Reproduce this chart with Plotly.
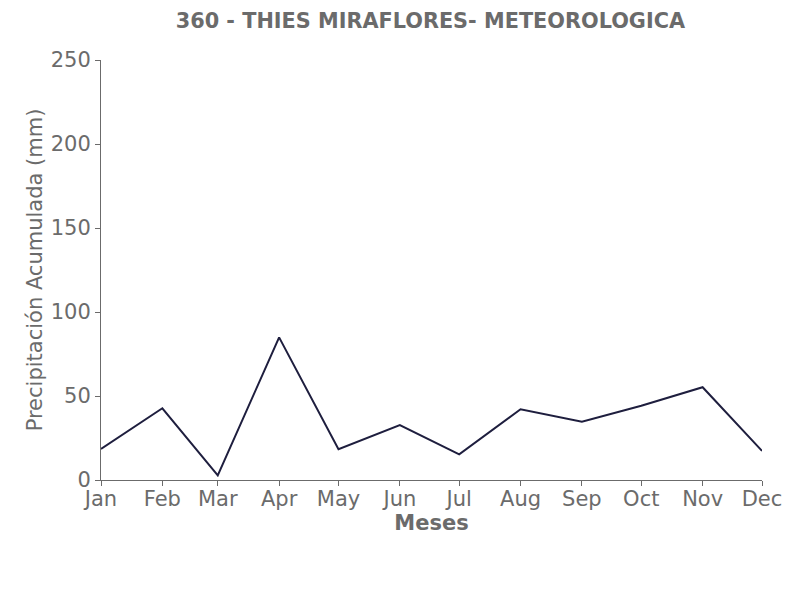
import plotly.graph_objects as go

months = ["2021-01-01", "2021-02-01", "2021-03-01", "2021-04-01", "2021-05-01", "2021-06-01",
          "2021-07-01", "2021-08-01", "2021-09-01", "2021-10-01", "2021-11-01", "2021-12-01"]
precip = [18.5, 42.7, 2.7, 84.9, 18.3, 32.7, 15.3, 42.1, 34.7, 44.2, 55.2, 17.3]

title_text = "360 - THIES MIRAFLORES- METEOROLOGICA"
gray = "#6b6b6b"
font_family = "DejaVu Sans"
fs = 21

fig = go.Figure()
fig.add_trace(go.Scatter(x=months, y=precip, mode="lines",
                         line=dict(color="#1e1e3e", width=2), showlegend=False))

fig.update_layout(
    width=806, height=600,
    paper_bgcolor="white", plot_bgcolor="white",
    margin=dict(l=93, r=52, t=52, b=128),
    font=dict(family=font_family, color=gray, size=fs),
    title=dict(text="<b>" + title_text + "</b>", x=0.524, xanchor="center", y=0.978, yanchor="middle",
               font=dict(size=20.8, color=gray, family=font_family)),
    xaxis=dict(
        type="date", range=[months[0], months[-1]],
        dtick="M1", tick0=months[0], tickformat="%b",
        showgrid=False, zeroline=False,
        showline=True, linecolor=gray, linewidth=1,
        ticks="outside", ticklen=5, tickcolor=gray,
        ticklabelstandoff=-5,
        tickfont=dict(size=fs, color=gray),
        title=dict(text="<b>Meses</b>", font=dict(size=fs, color=gray), standoff=4),
    ),
    yaxis=dict(
        range=[0, 250], dtick=50,
        showgrid=False, zeroline=False,
        showline=True, linecolor=gray, linewidth=1,
        ticks="outside", ticklen=5, tickcolor=gray,
        tickfont=dict(size=fs, color=gray),
        title=dict(text="Precipitación Acumulada (mm)", font=dict(size=fs, color=gray), standoff=2),
    ),
)

fig.write_html("out.html")
